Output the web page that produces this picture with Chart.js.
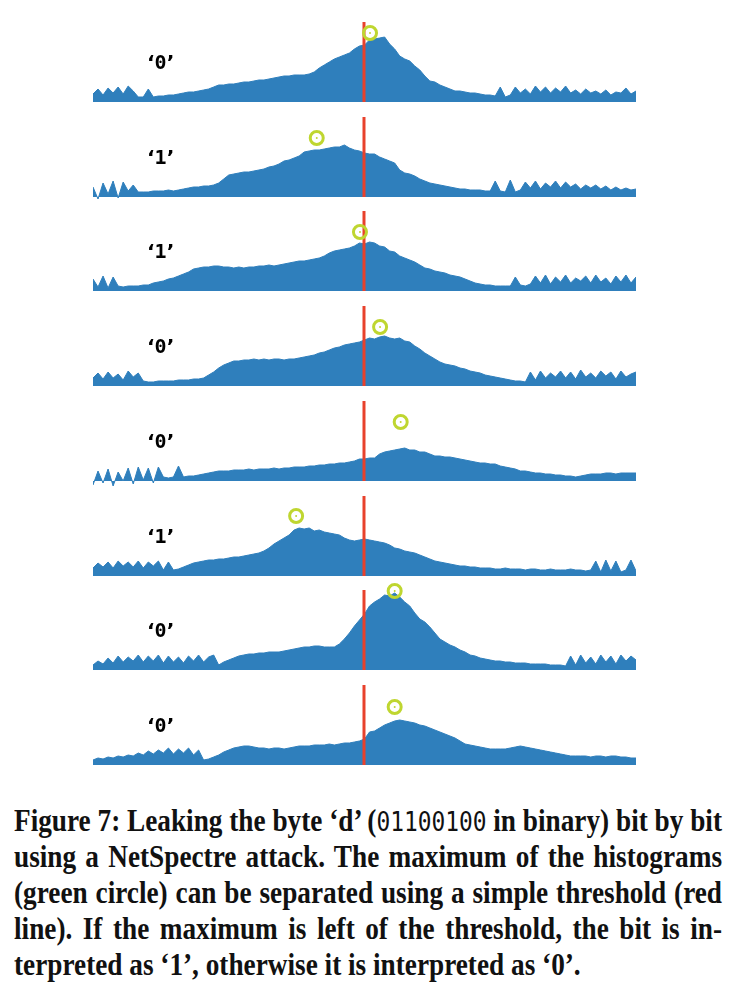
<!DOCTYPE html>
<html>
<head>
<meta charset="utf-8">
<script src="https://cdn.jsdelivr.net/npm/chart.js@4/dist/chart.umd.min.js"></script>
<style>
  body { margin: 0; background: #fff; width: 740px; height: 988px; position: relative; overflow: hidden; }
  canvas.row { position: absolute; left: 93px; }
  .bit { position: absolute; left: 147px; font: bold 20px "DejaVu Sans"; color: #000; white-space: nowrap; line-height: 24px; }
  .bit code { font: bold 20px "DejaVu Sans Mono"; }
  #caption { position: absolute; left: 14px; top: 803px; width: 708px; font: bold 31px "Liberation Serif"; line-height: 36px; color: #111; transform-origin: 0 0; }
  #caption div { text-align: justify; text-align-last: justify; white-space: nowrap; }
  #caption div.last { text-align-last: left; }
  #caption code { font: 26px "DejaVu Sans Mono"; }
</style>
</head>
<body>
<div id="caption">
  <div>Figure 7: Leaking the byte ‘d’ (<code>01100100</code> in binary) bit by bit</div>
  <div>using a NetSpectre attack. The maximum of the histograms</div>
  <div>(green circle) can be separated using a simple threshold (red</div>
  <div>line). If the maximum is left of the threshold, the bit is in-</div>
  <div class="last">terpreted as ‘1’, otherwise it is interpreted as ‘0’.</div>
</div>
<script>
// histogram heights per bin, one row per leaked bit (0 = baseline)
const hist0 = [8,13,7,14,9,15,8,16,11,5, 5,13,5,6,6,7,7,8,9,10, 10,11,12,13,15,17,17,18,18,19, 20,20,21,22,22,23,24,25,26,26, 27,27,27,28,30,34,37,40,43,45, 47,49,53,56,57,62,63,64,65,58, 53,46,43,41,36,32,26,21,20,17, 15,13,11,11,10,9,9,8,7,7, 6,15,5,7,15,9,13,8,16,10, 15,9,14,10,16,9,12,8,13,9, 11,8,12,7,10,9,14,8,11]
const hist1 = [10,-2,14,3,16,-1,15,6,12,5, 5,5,6,6,6,7,6,7,8,9, 10,10,11,11,12,14,18,22,23,24, 25,25,26,27,28,30,31,33,36,37, 39,41,45,46,47,47,48,49,50,50, 52,49,47,46,44,43,43,40,38,36, 34,27,24,23,21,18,16,14,13,12, 11,10,9,8,8,7,7,7,6,6, 16,6,5,17,5,7,15,9,16,8, 14,10,16,9,15,10,13,8,12,9, 12,8,11,7,10,7,9,7,8]
const hist2 = [12,4,15,3,14,5,4,5,5,5, 6,6,8,9,10,12,13,15,17,19, 22,23,24,24,25,25,24,24,23,24, 23,24,24,25,25,26,25,26,27,28, 29,30,30,31,32,33,35,38,40,41, 42,43,45,48,47,49,48,45,44,40, 39,35,33,31,29,26,23,22,20,19, 18,16,15,14,12,10,8,7,6,6, 5,5,5,5,14,6,5,7,15,8, 16,7,14,9,16,8,13,10,15,8, 16,9,13,7,15,9,16,8,14]
const hist3 = [8,13,7,14,8,12,6,15,9,13, 5,4,4,5,5,5,5,6,6,6, 7,7,8,11,14,18,21,23,25,25, 26,26,27,26,27,26,27,27,26,27, 27,28,29,30,31,33,34,36,38,39, 41,42,43,44,46,48,47,49,50,48, 47,48,45,44,40,37,33,30,27,24, 22,21,20,18,17,15,14,13,11,10, 9,8,7,6,5,5,4,14,6,15, 8,13,9,15,8,14,7,16,9,13, 8,15,10,14,7,15,9,12,14]
const hist4 = [-4,10,-2,12,-5,9,0,13,-3,14, 1,13,-2,14,4,3,4,15,4,5, 5,6,7,8,9,10,10,10,11,11, 11,12,11,12,12,12,13,12,13,13, 14,14,14,15,15,16,16,17,17,18, 18,19,20,22,22,23,23,27,29,30, 31,32,33,31,31,29,29,27,25,25, 24,24,23,22,21,20,19,18,18,17, 17,15,14,13,12,10,10,9,8,8, 7,7,6,6,5,5,4,5,6,7, 7,7,8,8,7,8,8,8,8]
const hist5 = [8,13,9,14,8,15,10,14,9,15, 8,14,10,15,6,14,6,7,9,11, 13,14,15,16,16,17,17,18,19,19, 20,21,22,23,25,28,32,35,38,41, 46,48,47,48,45,46,44,43,42,41, 38,36,35,36,37,36,35,34,33,31, 28,27,25,24,23,21,19,17,15,14, 13,12,11,10,10,9,9,8,8,8, 7,7,8,7,7,7,6,7,7,6, 6,7,6,6,6,7,6,6,5,6, 15,4,16,5,15,4,6,16,5]
const hist6 = [5,9,6,12,7,14,8,13,9,15, 8,14,9,15,7,14,8,13,7,14, 9,15,8,13,15,5,8,10,12,14, 15,16,16,17,17,18,18,18,19,20, 21,22,23,23,24,24,23,23,23,26, 31,37,44,50,56,64,68,71,75,74, 77,73,68,64,57,51,48,43,37,31, 28,25,23,20,18,15,14,12,11,10, 9,9,8,8,7,7,7,6,6,6, 6,5,5,5,4,14,5,15,7,13, 6,15,8,14,6,15,9,14,10]
const hist7 = [5,7,6,8,7,9,8,10,9,12, 10,14,11,15,12,17,11,16,12,17, 10,15,5,6,8,10,13,15,17,18, 19,19,18,17,17,16,17,17,16,17, 18,19,19,19,20,20,20,21,20,21, 22,22,23,24,26,33,34,37,40,42, 44,45,44,43,42,40,39,37,35,33, 31,29,27,24,21,20,19,18,17,16, 16,16,16,17,18,19,18,17,16,15, 14,13,12,11,10,9,9,9,9,8, 9,9,8,9,9,8,8,7,7]

const bits = ['0', '1', '1', '0', '0', '1', '0', '0']
// green circle: bin and height of each histogram's maximum
const peakBin = [55.1, 44.5, 53.1, 57.1, 61.2, 40.4, 60.0, 60.0]
const peakHeight = [69, 59, 59, 59, 59, 60, 79, 58]
// red threshold line
const thresholdBin = 53.9
const thresholdHeight = 80

const rows = [hist0, hist1, hist2, hist3, hist4, hist5, hist6, hist7]

const BLUE = '#2f7fbc'
const RED = '#e8412c'
const GREEN = '#bfd630'

const rowTop = 102
const rowStep = 94.7

rows.forEach((values, k) => {
  const base = rowTop + k * rowStep

  const canvas = document.createElement('canvas')
  canvas.className = 'row'
  canvas.width = 543
  canvas.height = 100
  canvas.style.top = (base - 90) + 'px'
  document.body.appendChild(canvas)

  const label = document.createElement('div')
  label.className = 'bit'
  label.style.top = (base - 52) + 'px'
  label.innerHTML = '‘<code>' + bits[k] + '</code>’'
  document.body.appendChild(label)

  new Chart(canvas, {
    type: 'line',
    data: {
      datasets: [
        {
          data: [{ x: peakBin[k], y: peakHeight[k] }],
          showLine: false,
          pointRadius: 1,
          pointBackgroundColor: GREEN,
          pointBorderWidth: 0,
          clip: false,
        },
        {
          data: [{ x: peakBin[k], y: peakHeight[k] }],
          showLine: false,
          pointRadius: 6.5,
          pointBorderWidth: 3,
          pointBorderColor: GREEN,
          pointBackgroundColor: 'rgba(0,0,0,0)',
          clip: false,
        },
        {
          data: [{ x: thresholdBin, y: 0 }, { x: thresholdBin, y: thresholdHeight }],
          borderColor: RED,
          borderWidth: 3,
          pointRadius: 0,
        },
        {
          data: values.map((v, i) => ({ x: i, y: v })),
          fill: 'origin',
          backgroundColor: BLUE,
          borderColor: BLUE,
          borderWidth: 1,
          pointRadius: 0,
          tension: 0,
        },
      ],
    },
    options: {
      responsive: false,
      animation: false,
      devicePixelRatio: 1,
      layout: { padding: 0, autoPadding: false },
      plugins: { legend: { display: false }, tooltip: { enabled: false } },
      scales: {
        x: { type: 'linear', min: 0, max: 108, display: false },
        y: { min: -10, max: 90, display: false },
      },
    },
  })
})

// squeeze the caption horizontally so its widest line fills the column
const cap = document.getElementById('caption')
let widest = 0
for (const line of cap.children) {
  line.style.display = 'inline-block'
  widest = Math.max(widest, line.getBoundingClientRect().width)
  line.style.display = ''
}
cap.style.width = widest + 'px'
cap.style.transform = 'scaleX(' + (708 / widest) + ')'
</script>
</body>
</html>
